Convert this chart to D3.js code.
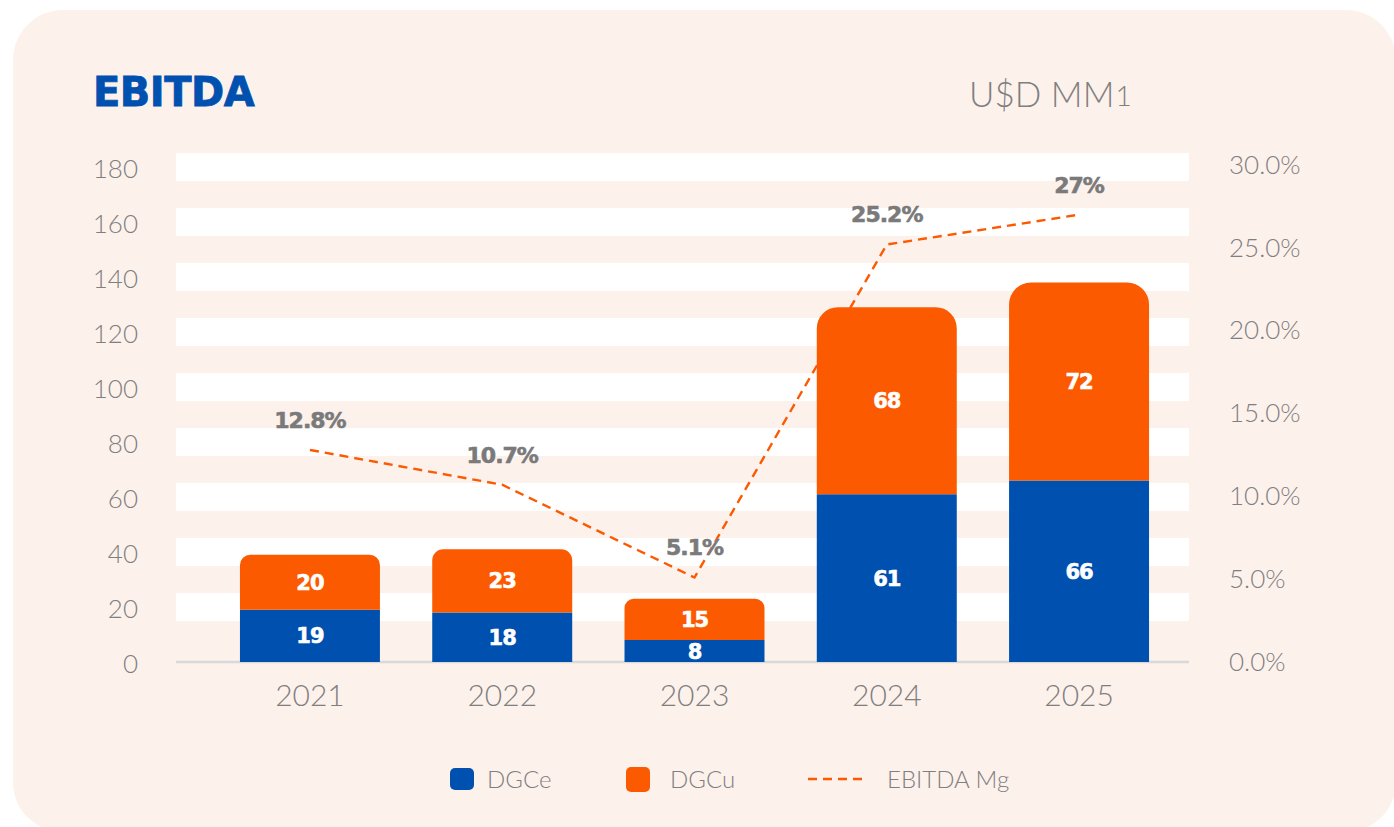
<!DOCTYPE html>
<html>
<head>
<meta charset="utf-8">
<script src="https://cdn.jsdelivr.net/npm/d3@7"></script>
<style>
  html, body { margin: 0; padding: 0; background: #ffffff; }
  svg { display: block; }
</style>
</head>
<body>
<svg id="chart" width="1394" height="827"></svg>
<script>
// chart data
const years = ["2021", "2022", "2023", "2024", "2025"];
const dgce = [19, 18, 8, 61, 66];
const dgcu = [20, 23, 15, 68, 72];
const ebitdaMg = [12.8, 10.7, 5.1, 25.2, 27];
const leftTicks = [0, 20, 40, 60, 80, 100, 120, 140, 160, 180];
const rightTicks = [0, 5, 10, 15, 20, 25, 30];
const legendItems = ["DGCe", "DGCu", "EBITDA Mg"];

const blue = "#0050b0";
const orange = "#fb5a00";
const grey = "#7f7f7f";
const lightFont = "Lato, 'Open Sans', sans-serif";
const boldFont = "'DejaVu Sans', Verdana, sans-serif";

const svg = d3.select("#chart");

// card background
svg.append("rect")
    .attr("x", 13).attr("y", 10)
    .attr("width", 1383).attr("height", 822)
    .attr("rx", 50)
    .attr("fill", "#fdf1ec");

const x = d3.scaleBand()
    .domain(years)
    .range([214, 1175])
    .paddingInner(0.272)
    .paddingOuter(0.135);

const y = d3.scaleLinear().domain([0, 180]).range([662, 167]);
const yR = d3.scaleLinear().domain([0, 30]).range([662, 165]);

const plotLeft = 176, plotRight = 1189;

// white bands on the gridlines
svg.append("g")
    .selectAll("rect")
    .data(leftTicks.filter(t => t > 0))
    .join("rect")
    .attr("x", plotLeft)
    .attr("width", plotRight - plotLeft)
    .attr("y", d => y(d) - 14)
    .attr("height", 28)
    .attr("fill", "#ffffff");

// baseline
svg.append("line")
    .attr("x1", plotLeft).attr("x2", plotRight)
    .attr("y1", y(0)).attr("y2", y(0))
    .attr("stroke", "#d9d9d9")
    .attr("stroke-width", 2.5);

// margin line (sits behind the bars)
const line = d3.line()
    .x((d, i) => x(years[i]) + x.bandwidth() / 2)
    .y(d => yR(d));

svg.append("path")
    .datum(ebitdaMg)
    .attr("d", line)
    .attr("fill", "none")
    .attr("stroke", orange)
    .attr("stroke-width", 2.4)
    .attr("stroke-dasharray", "9,6");

// stacked bars
const bw = x.bandwidth();
years.forEach((yr, i) => {
    const x0 = x(yr);
    const yBase = y(0);
    const yMid = y(dgce[i]);
    const yTop = y(dgce[i] + dgcu[i]);

    svg.append("rect")
        .attr("x", x0).attr("y", yMid)
        .attr("width", bw).attr("height", yBase - yMid)
        .attr("fill", blue);

    // orange segment with rounded top
    const h = yMid - yTop;
    const r = Math.min(22, 6 + h * 0.08);
    const p = d3.path();
    p.moveTo(x0, yMid);
    p.lineTo(x0, yTop + r);
    p.arcTo(x0, yTop, x0 + r, yTop, r);
    p.lineTo(x0 + bw - r, yTop);
    p.arcTo(x0 + bw, yTop, x0 + bw, yTop + r, r);
    p.lineTo(x0 + bw, yMid);
    p.closePath();
    svg.append("path")
        .attr("d", p.toString())
        .attr("fill", orange);

    const cx = x0 + bw / 2;
    [[dgce[i], (yBase + yMid) / 2], [dgcu[i], (yMid + yTop) / 2]].forEach(([v, ty]) => {
        svg.append("text")
            .attr("x", cx).attr("y", ty)
            .attr("dy", "0.36em")
            .attr("text-anchor", "middle")
            .attr("fill", "#ffffff")
            .attr("stroke", "#ffffff")
            .attr("stroke-width", 0.6)
            .style("font-family", boldFont)
            .style("font-weight", "bold")
            .style("font-size", "21px")
            .style("letter-spacing", "-1px")
            .text(v);
    });
});

// margin labels
svg.append("g")
    .selectAll("text")
    .data(ebitdaMg)
    .join("text")
    .attr("x", (d, i) => x(years[i]) + bw / 2)
    .attr("y", d => yR(d) - 30)
    .attr("dy", "0.36em")
    .attr("text-anchor", "middle")
    .attr("fill", "#7a7a7a")
    .attr("stroke", "#7a7a7a")
    .attr("stroke-width", 0.6)
    .style("font-family", boldFont)
    .style("font-weight", "bold")
    .style("font-size", "22px")
    .style("letter-spacing", "-1px")
    .text(d => d + "%");

// axes
const leftAxis = svg.append("g")
    .attr("transform", "translate(138,2)")
    .call(d3.axisLeft(y).tickValues(leftTicks).tickSize(0).tickPadding(0));

const rightAxis = svg.append("g")
    .attr("transform", "translate(1229,0)")
    .call(d3.axisRight(yR).tickValues(rightTicks).tickSize(0).tickPadding(0)
        .tickFormat(d => d3.format(".1f")(d) + "%"));

const bottomAxis = svg.append("g")
    .attr("transform", `translate(0,${y(0) + 33})`)
    .call(d3.axisBottom(x).tickSize(0).tickPadding(0));

[leftAxis, rightAxis, bottomAxis].forEach(g => {
    g.select(".domain").remove();
    g.selectAll("text")
        .attr("fill", grey)
        .style("font-family", lightFont)
        .style("font-weight", 300);
});
leftAxis.selectAll("text").style("font-size", "26px");
rightAxis.selectAll("text").style("font-size", "26px");
bottomAxis.selectAll("text").style("font-size", "30px").attr("dy", "0.36em");

// title and unit
svg.append("text")
    .attr("x", 93).attr("y", 106)
    .attr("fill", blue)
    .attr("stroke", blue)
    .attr("stroke-width", 0.8)
    .style("font-family", boldFont)
    .style("font-weight", "bold")
    .style("font-size", "40px")
    .style("letter-spacing", "-0.5px")
    .text("EBITDA");

const unit = svg.append("text")
    .attr("x", 969).attr("y", 107)
    .attr("fill", grey)
    .style("font-family", lightFont)
    .style("font-weight", 300)
    .style("font-size", "35px")
    .text("U$D MM");
unit.append("tspan")
    .attr("dx", 1)
    .attr("dy", -1)
    .style("font-size", "28px")
    .style("font-weight", 300)
    .text("1");

// legend
const legend = svg.append("g");
legend.append("rect")
    .attr("x", 450).attr("y", 768).attr("width", 24).attr("height", 22)
    .attr("rx", 5).attr("fill", blue);
legend.append("rect")
    .attr("x", 626).attr("y", 767).attr("width", 24).attr("height", 25)
    .attr("rx", 5).attr("fill", orange);
legend.append("line")
    .attr("x1", 808).attr("x2", 866).attr("y1", 779).attr("y2", 779)
    .attr("stroke", orange).attr("stroke-width", 2.4)
    .attr("stroke-dasharray", "9,6");

const legendX = [487, 670, 887];
legend.selectAll("text.leg")
    .data(legendItems)
    .join("text")
    .attr("class", "leg")
    .attr("x", (d, i) => legendX[i])
    .attr("y", 779)
    .attr("dy", "0.36em")
    .attr("fill", grey)
    .style("font-family", lightFont)
    .style("font-weight", 300)
    .style("font-size", "24px")
    .text(d => d);
</script>
</body>
</html>
